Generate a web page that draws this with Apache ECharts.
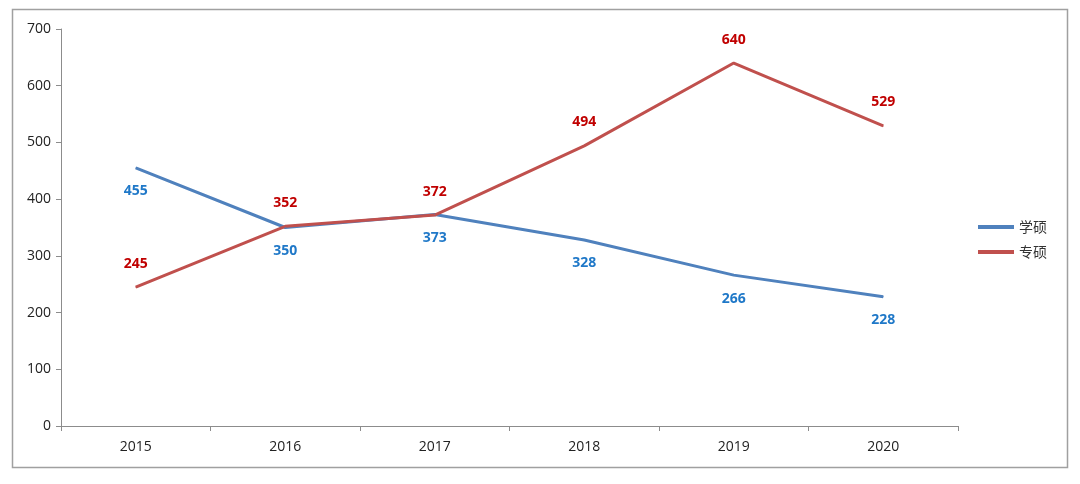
<!DOCTYPE html>
<html><head><meta charset="utf-8">
<script src="https://cdn.jsdelivr.net/npm/echarts@6/dist/echarts.min.js"></script>
<style>html,body{margin:0;padding:0;background:#fff}#c{width:1080px;height:484px}</style>
</head><body><div id="c"></div>
<script>
const categories = ['2015','2016','2017','2018','2019','2020'];
const xueshuo = [455, 350, 373, 328, 266, 228];
const zhuanshuo = [245, 352, 372, 494, 640, 529];
const yTicks = {min: 0, max: 700, interval: 100};

const chart = echarts.init(document.getElementById('c'));
const axisFont = 'Open Sans, Liberation Sans, sans-serif';
chart.setOption({
  animation: false,
  graphic: [{type:'rect', shape:{x:12.5,y:9.5,width:1055,height:458}, style:{fill:'none', stroke:'#a0a0a0', lineWidth:1.5}, z:-1}],
  grid: {left: 61, right: 122, top: 29, bottom: 58},
  legend: {
    orient: 'vertical', right: 28, top: 215, itemWidth: 36, itemHeight: 4, itemGap: 11,
    icon: 'rect',
    textStyle: {fontFamily: 'Noto Sans CJK SC, serif', fontSize: 14, color: '#333'},
    data: ['学硕','专硕']
  },
  xAxis: {
    type: 'category', data: categories, boundaryGap: true,
    axisLine: {lineStyle: {color: '#8c8c8c', width: 1}},
    axisTick: {show: true, length: 5, alignWithLabel: false, lineStyle: {color: '#8c8c8c'}},
    axisLabel: {color: '#222', fontSize: 14, fontFamily: axisFont, margin: 14}
  },
  yAxis: {
    type: 'value', min: yTicks.min, max: yTicks.max, interval: yTicks.interval,
    axisLine: {show: true, lineStyle: {color: '#8c8c8c', width: 1}},
    axisTick: {show: true, length: 5, lineStyle: {color: '#8c8c8c'}},
    splitLine: {show: false},
    axisLabel: {color: '#222', fontSize: 14, fontFamily: axisFont, margin: 10}
  },
  series: [
    {
      name: '学硕', type: 'line', data: xueshuo,
      symbol: 'circle', symbolSize: 1, showSymbol: true,
      lineStyle: {color: '#4f81bd', width: 3},
      itemStyle: {color: '#4f81bd'},
      label: {show: true, position: 'bottom', distance: 16, color: '#1f78c8', fontWeight: 'bold', fontSize: 14, fontFamily: axisFont}
    },
    {
      name: '专硕', type: 'line', data: zhuanshuo,
      symbol: 'circle', symbolSize: 1, showSymbol: true,
      lineStyle: {color: '#c0504d', width: 3},
      itemStyle: {color: '#c0504d'},
      label: {show: true, position: 'top', distance: 16, color: '#c00000', fontWeight: 'bold', fontSize: 14, fontFamily: axisFont}
    }
  ]
});
</script></body></html>
